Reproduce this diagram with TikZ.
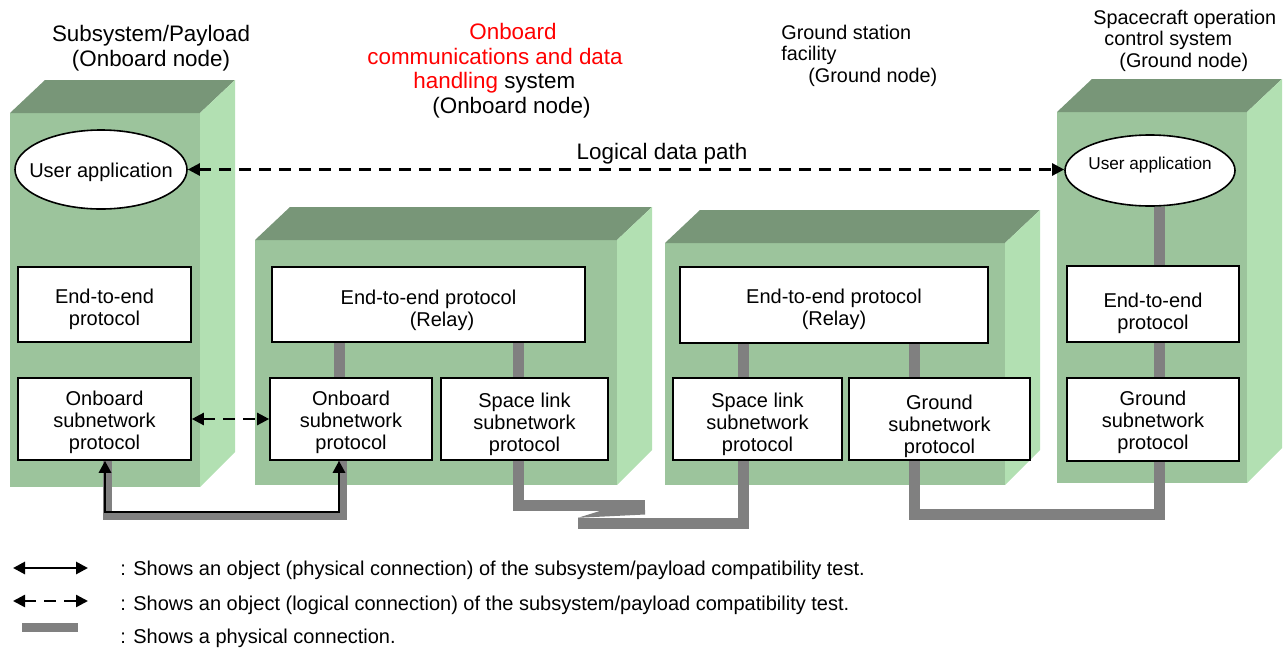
\documentclass[tikz,border=0pt]{standalone}
\usepackage{fontspec}
\setmainfont{Liberation Sans}
\usetikzlibrary{shapes.geometric,arrows.meta}
\definecolor{frontc}{RGB}{156,196,156}
\definecolor{topc}{RGB}{120,150,120}
\definecolor{sidec}{RGB}{178,224,178}
\definecolor{linkgray}{RGB}{128,128,128}
\newcommand{\greenblock}[4]{%
  \fill[frontc] (#1,#2) rectangle (#3,#4);
  \fill[topc] (#1,#2) -- (#1+35,#2-33) -- (#3+35,#2-33) -- (#3,#2) -- cycle;
  \fill[sidec] (#3,#2) -- (#3+35,#2-33) -- (#3+35,#4-35) -- (#3,#4) -- cycle;}
\begin{document}
\begin{tikzpicture}[x=0.5pt,y=-0.5pt,
  pbox/.style={draw=black,fill=white,line width=0.8pt,inner sep=0pt},
  ptext/.style={align=center,inner sep=0pt,font=\fontsize{10}{11}\selectfont},
  uapp/.style={ellipse,draw=black,fill=white,line width=0.8pt,inner sep=0pt},
  glink/.style={draw=linkgray,line width=5.5pt},
  gshadow/.style={draw=linkgray,line width=4.5pt},
  phys/.style={draw=black,line width=1.4pt,{Triangle[length=6pt,width=6pt]}-{Triangle[length=6pt,width=6pt]}},
  logic/.style={draw=black,line width=1.2pt,dash pattern=on 6pt off 4pt,{Triangle[length=6pt,width=6pt]}-{Triangle[length=6pt,width=6pt]}},
  title/.style={inner sep=0pt,font=\fontsize{11.2}{12.4}\selectfont},
  smalltitle/.style={inner sep=0pt,align=left,font=\fontsize{9.9}{10.8}\selectfont},
  legtext/.style={inner sep=0pt,anchor=west,font=\fontsize{10}{12}\selectfont}]
\useasboundingbox (0,0) rectangle (1287,649);

% 3D blocks
\greenblock{10}{113}{200}{487}
\greenblock{255}{240}{617}{485}
\greenblock{665}{243}{1005}{485}
\greenblock{1057}{112}{1247}{483}

% helper coordinates
\coordinate (x105) at (105,0);
\coordinate (x107) at (107,0);
\coordinate (x339) at (339,0);
\coordinate (x342) at (342,0);
\coordinate (x518) at (518,0);
\coordinate (x743) at (743,0);
\coordinate (x914) at (914,0);
\coordinate (x1159) at (1159,0);
\coordinate (y505) at (0,505);
\coordinate (y512) at (0,512);
\coordinate (y515) at (0,515);
\coordinate (y514) at (0,514);
\coordinate (y523) at (0,523);
\coordinate (zz1) at (645,505);
\coordinate (zz2) at (578,523);

% Node 1
\node[uapp,minimum width=86pt,minimum height=39.5pt,
  label={[ptext,yshift=-1.25pt]center:User application}] (ua1) at (101,169.5) {};
\node[pbox,minimum width=86.5pt,minimum height=37.5pt,
  label={[ptext,yshift=-2.5pt]center:End-to-end\\protocol}] (b1e) at (104.5,304.5) {};
\node[pbox,minimum width=86.5pt,minimum height=41pt,
  label={[ptext,yshift=-1.5pt]center:Onboard\\subnetwork\\protocol}] (b1o) at (104.5,419) {};

% Node 2
\node[pbox,minimum width=156.5pt,minimum height=37.5pt,
  label={[ptext,yshift=-3pt]center:End-to-end protocol\\\hspace*{13.5pt}(Relay)}] (b2e) at (428.5,304.5) {};
\node[pbox,minimum width=81pt,minimum height=41pt,
  label={[ptext,yshift=-1.5pt]center:Onboard\\subnetwork\\protocol}] (b2o) at (351,419) {};
\node[pbox,minimum width=83.5pt,minimum height=41pt,
  label={[ptext,yshift=-2.5pt]center:Space link\\subnetwork\\protocol}] (b2s) at (524.5,419) {};

% Node 3
\node[pbox,minimum width=154pt,minimum height=38pt,
  label={[ptext,yshift=-2pt]center:End-to-end protocol\\(Relay)}] (b3e) at (834,305) {};
\node[pbox,minimum width=84.5pt,minimum height=41pt,
  label={[ptext,yshift=-2.5pt]center:Space link\\subnetwork\\protocol}] (b3s) at (757.5,419) {};
\node[pbox,minimum width=90.5pt,minimum height=41pt,
  label={[ptext,yshift=-3.5pt]center:Ground\\subnetwork\\protocol}] (b3g) at (939.5,419) {};

% Node 4
\node[uapp,minimum width=85pt,minimum height=35.5pt,
  label={[inner sep=0pt,font=\fontsize{8.6}{10}\selectfont,yshift=2.5pt]center:User application}] (ua4) at (1150,170.5) {};
\node[pbox,minimum width=86pt,minimum height=38pt,
  label={[ptext,yshift=-4.5pt]center:End-to-end\\protocol}] (b4e) at (1153,304) {};
\node[pbox,minimum width=86pt,minimum height=41.5pt,
  label={[ptext,yshift=-1.5pt]center:Ground\\subnetwork\\protocol}] (b4g) at (1153,419.5) {};

% internal gray links
\draw[glink] (b2e.south -| x339) -- (b2o.north -| x339);
\draw[glink] (b2e.south -| x518) -- (b2s.north -| x518);
\draw[glink] (b3e.south -| x743) -- (b3s.north -| x743);
\draw[glink] (b3e.south -| x914) -- (b3g.north -| x914);
\draw[glink] (ua4.south -| x1159) -- (b4e.north -| x1159);
\draw[glink] (b4e.south -| x1159) -- (b4g.north -| x1159);

% ground link
\draw[glink] (b4g.south -| x1159) -- (x1159 |- y514) -- (x914 |- y514) -- (b3g.south -| x914);

% space link (zigzag)
\draw[glink] (b2s.south -| x518) -- (x518 |- y505) -- (zz1);
\fill[linkgray] (603,510) -- (645,510) -- (645,514.5) -- (578,517.8) -- cycle;
\draw[glink] (zz2) -- (x743 |- y523) -- (b3s.south -| x743);

% physical connection (object)
\draw[gshadow] (b1o.south -| x107) -- (x107 |- y515) -- (x342 |- y515) -- (b2o.south -| x342);
\draw[phys] (b1o.south -| x105) -- (x105 |- y512) -- (x339 |- y512) -- (b2o.south -| x339);

% logical connections
\draw[logic] (ua1.east) -- (ua1.east -| ua4.west);
\draw[logic] (b1o.east) -- (b2o.west);
\node[title] (ldp) at (662,154) {Logical data path};

% titles
\node[title,align=center] (t1) at (151,48) {Subsystem/Payload\\(Onboard node)};
\node[title,align=left,anchor=west,font=\fontsize{11.2}{12.25}\selectfont] (t2) at (367,70.5)
  {\hspace*{51pt}\textcolor{red}{Onboard}\\
   \textcolor{red}{communications and data}\\
   \hspace*{23pt}\textcolor{red}{handling} system\\
   \hspace*{32.5pt}(Onboard node)};
\node[smalltitle,anchor=west] (t3) at (781,55.5) {Ground station\\facility\\\hspace*{13.5pt}(Ground node)};
\node[smalltitle,anchor=west] (t4) at (1093,40.5) {Spacecraft operation\\\hspace*{5.5pt}control system\\\hspace*{13pt}(Ground node)};

% legend
\coordinate (l1a) at (13,568); \coordinate (l1b) at (88,568);
\coordinate (l2a) at (13,601); \coordinate (l2b) at (88,601);
\coordinate (l3a) at (22,627); \coordinate (l3b) at (78,627);
\draw[phys] (l1a) -- (l1b);
\draw[logic] (l2a) -- (l2b);
\draw[gshadow] (l3a) -- (l3b);
\node[legtext] (lt1) at (120,570) {: Shows an object (physical connection) of the subsystem/payload compatibility test.};
\node[legtext] (lt2) at (120,605) {: Shows an object (logical connection) of the subsystem/payload compatibility test.};
\node[legtext] (lt3) at (120,638) {: Shows a physical connection.};
\end{tikzpicture}
\end{document}
